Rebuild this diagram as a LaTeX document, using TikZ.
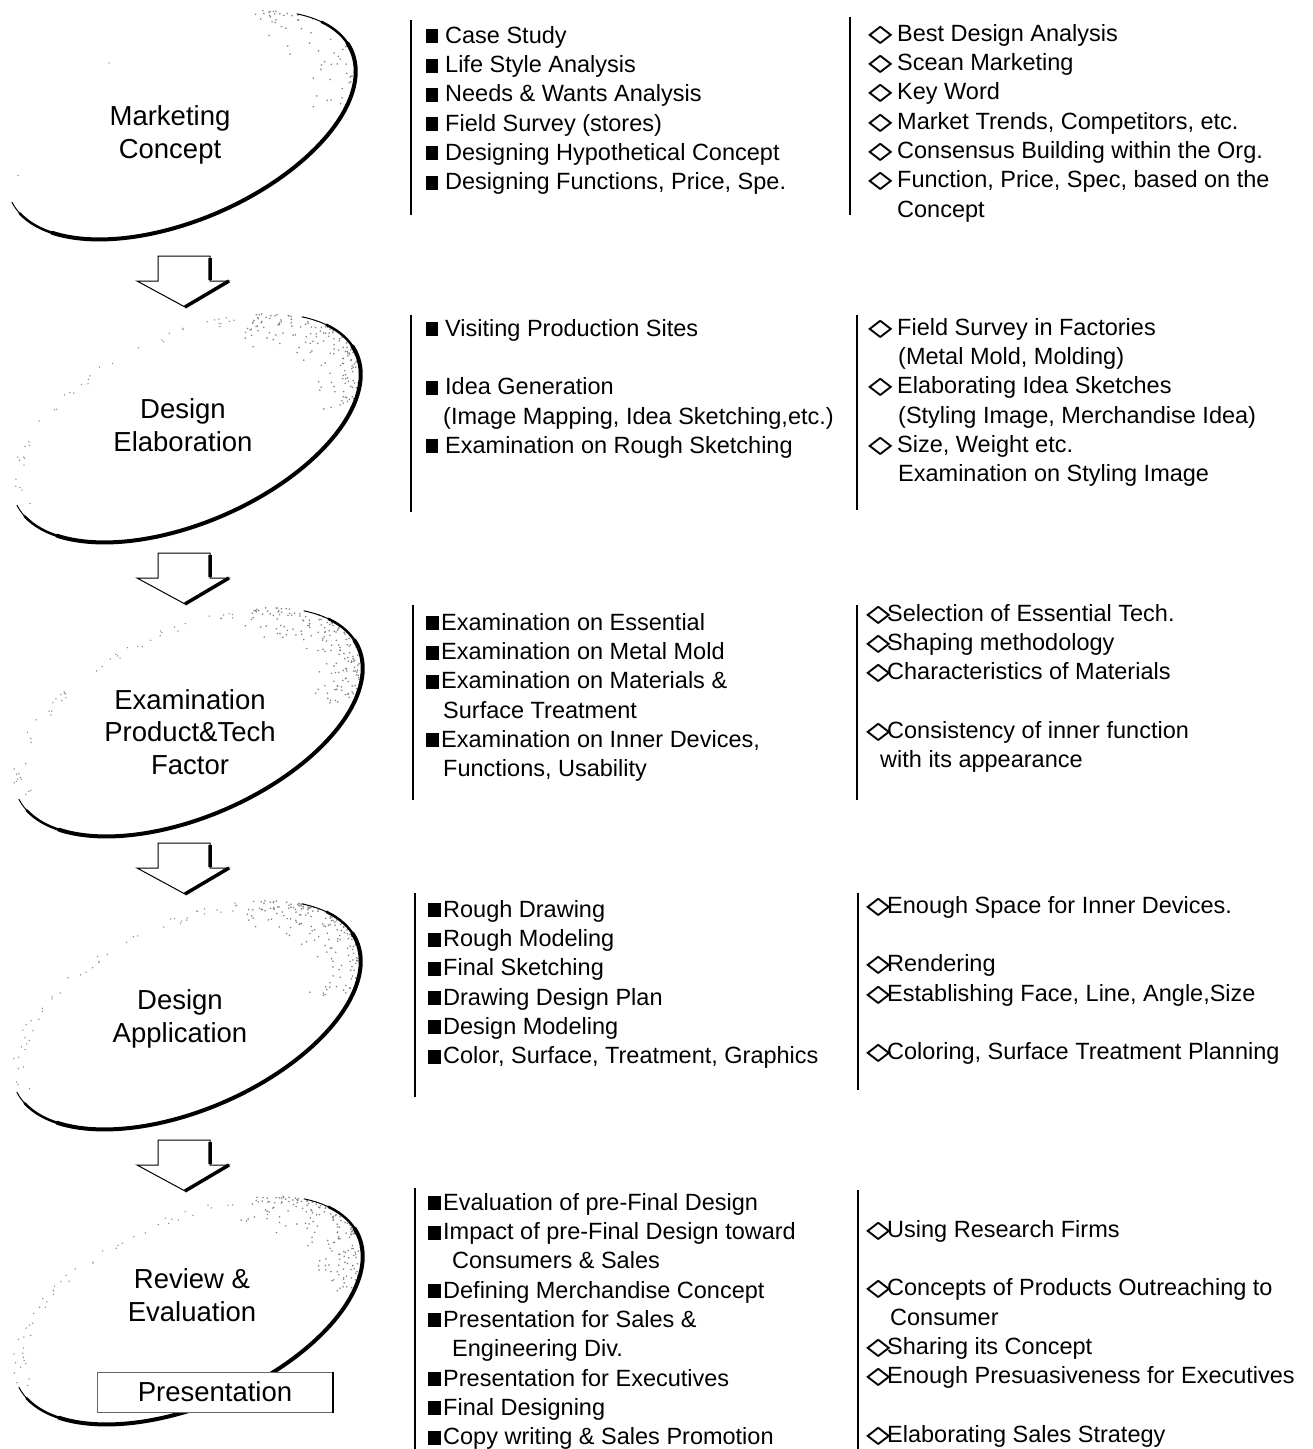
\documentclass[tikz,border=0pt]{standalone}
\usepackage{fontspec}
\setmainfont{Liberation Sans}
\newfontfamily\symfont{DejaVu Sans}
\usepackage{graphicx}

% bullets (fixed widths so the text starts where the scan has it)
\newcommand{\dm}{\scalebox{1.3}[1]{\symfont\rlap{◇}\kern0.8pt◇}}
\newcommand{\sqb}{\strut\makebox[19pt][l]{\rule{12pt}{14pt}}}
\newcommand{\sqt}{\strut\makebox[15pt][l]{\rule{13pt}{14pt}}}
\newcommand{\dmb}{\strut\makebox[29pt][l]{\dm}}
\newcommand{\dmt}{\strut\makebox[21pt][l]{\dm}}

\begin{document}
\begin{tikzpicture}[x=1pt,y=1pt,
    stage/.style={font=\fontsize{27.5}{32.5}\selectfont, align=center},
    items/.style={font=\fontsize{23.5}{29.3}\selectfont, align=left,
                  anchor=north west, inner sep=0pt, yshift=20.5pt},
    bar/.style={line width=2.4pt}]
    \useasboundingbox (0,0) rectangle (1313,-1449);
    \pgfmathsetseed{12}

    % the five swooshes
    \foreach \cx/\cy/\n/\m in {181/-125/60/2, 186/-428/160/40, 188/-722/180/50, 186/-1015/180/50, 188/-1310/180/50} {
        \begin{scope}[shift={(\cx,\cy)}, rotate=23.5]
            \foreach \k in {1,...,\n} {
                \pgfmathsetmacro\ph{-30+85*rnd}
                \pgfmathsetmacro\rr{1-0.3*rnd*rnd}
                \fill[black!50] ({186*\rr*cos(\ph)},{95*\rr*sin(\ph)}) circle[radius=0.9];
            }
            \foreach \k in {1,...,\m} {
                \pgfmathsetmacro\ph{60+125*rnd}
                \pgfmathsetmacro\rr{1-0.08*rnd}
                \fill[black!45] ({186*\rr*cos(\ph)},{95*\rr*sin(\ph)}) circle[radius=0.8];
            }
            \draw[line width=1pt] (-178:186pt and 95pt) arc[start angle=-178, end angle=36, x radius=186pt, y radius=95pt];
            \draw[line width=2.5pt, line cap=round] (-170:186pt and 95pt) arc[start angle=-170, end angle=24, x radius=186pt, y radius=95pt];
            \draw[line width=4pt, line cap=round] (-150:186pt and 95pt) arc[start angle=-150, end angle=5, x radius=186pt, y radius=95pt];
        \end{scope}
    }

    % block arrows between the stages
    \foreach \ty in {256,553,843,1140} {
        \filldraw[fill=white, line width=1pt] (158,-\ty) -- (210,-\ty) -- (210,-\ty-25) -- (229,-\ty-25)
            -- (185,-\ty-51) -- (137,-\ty-25) -- (158,-\ty-25) -- cycle;
        \draw[line width=3.5pt] (210,-\ty-2) -- (210,-\ty-24) (229,-\ty-25) -- (185,-\ty-51);
    }

    % stage names
    \node[stage] (mkt)  at (170,-135)  {Marketing\\Concept};
    \node[stage] (elab) at (183,-425)  {Design\\Elaboration};
    \node[stage] (exam) at (190,-732)  {Examination\\Product\&Tech\\Factor};
    \node[stage] (appl) at (180,-1019) {Design\\Application};
    \node[stage] (rev)  at (192,-1295) {Review \&\\Evaluation};
    \node[stage, draw=black!60, line width=1pt, fill=white, minimum width=235pt, minimum height=40pt,
          inner sep=0pt] (pres) at (215,-1392) {Presentation};
    \draw[line width=2.5pt] (pres.north east) -- (pres.south east);

    % column rules
    \foreach \x/\ya/\yb in {411/20/215, 850/17/215, 411/315/512, 857/315/510, 413/605/800,
                            857/605/800, 415/893/1097, 858/893/1090, 415/1188/1449, 858/1190/1449}
        \draw[bar] (\x,-\ya) -- (\x,-\yb);

    % tasks
    \node[items] (mktL) at (426,-43) {\sqb Case Study\\ \sqb Life Style Analysis\\
        \sqb Needs \& Wants Analysis\\ \sqb Field Survey (stores)\\
        \sqb Designing Hypothetical Concept\\ \sqb Designing Functions, Price, Spe.};
    \node[items] (elabL) at (426,-336) {\sqb Visiting Production Sites\\[29.3pt]
        \sqb Idea Generation\\ \hspace*{17pt}(Image Mapping, Idea Sketching,etc.)\\
        \sqb Examination on Rough Sketching};
    \node[items] (examL) at (426,-630) {\sqt Examination on Essential\\ \sqt Examination on Metal Mold\\
        \sqt Examination on Materials \&\\ \hspace*{17pt}Surface Treatment\\
        \sqt Examination on Inner Devices,\\ \hspace*{17pt}Functions, Usability};
    \node[items] (applL) at (428,-917) {\sqt Rough Drawing\\ \sqt Rough Modeling\\ \sqt Final Sketching\\
        \sqt Drawing Design Plan\\ \sqt Design Modeling\\ \sqt Color, Surface, Treatment, Graphics};
    \node[items] (revL) at (428,-1210) {\sqt Evaluation of pre-Final Design\\
        \sqt Impact of pre-Final Design toward\\ \hspace*{24pt}Consumers \& Sales\\
        \sqt Defining Merchandise Concept\\ \sqt Presentation for Sales \&\\
        \hspace*{24pt}Engineering Div.\\ \sqt Presentation for Executives\\
        \sqt Final Designing\\ \sqt Copy writing \& Sales Promotion};

    % checkpoints
    \node[items] (mktR) at (868,-41) {\dmb Best Design Analysis\\ \dmb Scean Marketing\\ \dmb Key Word\\
        \dmb Market Trends, Competitors, etc.\\ \dmb Consensus Building within the Org.\\
        \dmb Function, Price, Spec, based on the\\ \hspace*{29pt}Concept};
    \node[items] (elabR) at (868,-335) {\dmb Field Survey in Factories\\ \hspace*{30pt}(Metal Mold, Molding)\\
        \dmb Elaborating Idea Sketches\\ \hspace*{30pt}(Styling Image, Merchandise Idea)\\
        \dmb Size, Weight etc.\\ \hspace*{30pt}Examination on Styling Image};
    \node[items] (examR) at (866,-621) {\dmt Selection of Essential Tech.\\ \dmt Shaping methodology\\
        \dmt Characteristics of Materials\\[29.3pt] \dmt Consistency of inner function\\
        \hspace*{14pt}with its appearance};
    \node[items] (applR) at (866,-913) {\dmt Enough Space for Inner Devices.\\[29.3pt] \dmt Rendering\\
        \dmt Establishing Face, Line, Angle,Size\\[29.3pt] \dmt Coloring, Surface Treatment Planning};
    \node[items] (revR) at (866,-1237) {\dmt Using Research Firms\\[29.3pt]
        \dmt Concepts of Products Outreaching to\\ \hspace*{24pt}Consumer\\ \dmt Sharing its Concept\\
        \dmt Enough Presuasiveness for Executives\\[29.3pt] \dmt Elaborating Sales Strategy};
\end{tikzpicture}
\end{document}
